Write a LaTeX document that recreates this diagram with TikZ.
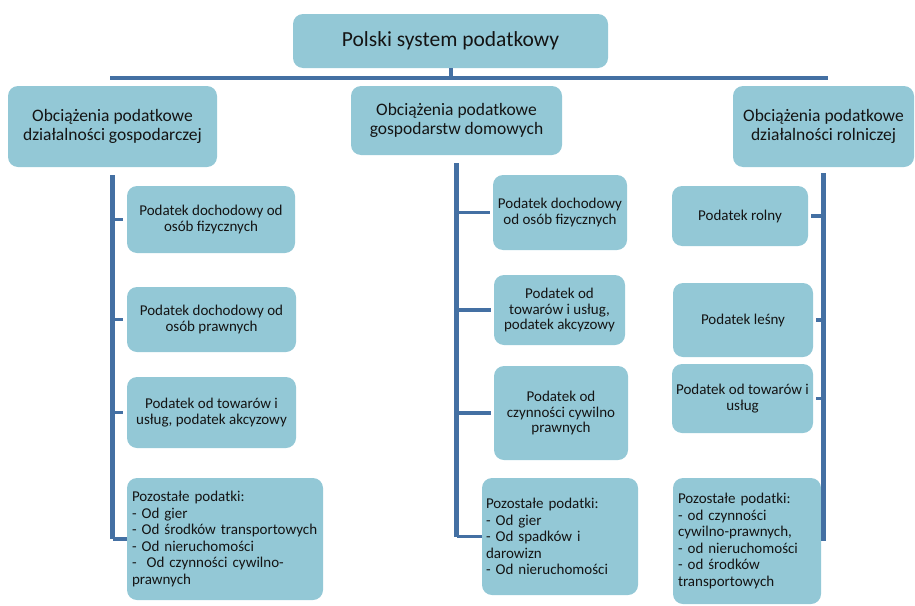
\documentclass[tikz,border=0pt]{standalone}
\usepackage{fontspec}
\setmainfont{Carlito}
\definecolor{boxfill}{HTML}{93C8D6}
\definecolor{linkblue}{HTML}{4470A3}
\begin{document}
\begin{tikzpicture}[x=1pt,y=-1pt,
  box/.style={fill=boxfill, rounded corners=10pt, inner sep=0pt, align=center, text=black!92},
  headbox/.style={box, font=\fontsize{21.5}{24}\selectfont},
  groupbox/.style={box, font=\fontsize{17.5}{19}\selectfont},
  taxbox/.style={box, font=\fontsize{15}{15.8}\selectfont},
  listbox/.style={box, align=left, font=\fontsize{15}{16.6}\selectfont},
  trunk/.style={draw=linkblue, line width=4.5pt},
  bar/.style={draw=linkblue, line width=4pt},
  tick/.style={draw=linkblue, line width=3.5pt}
]
\useasboundingbox (0,0) rectangle (915,605);

% top level
\node[headbox, minimum width=315pt, minimum height=54pt] (top) at (450.5,41) {Polski system podatkowy};

% second level
\node[groupbox, minimum width=209pt, minimum height=81pt] (L1) at (112.5,126.5) {Obciążenia podatkowe\\działalności gospodarczej};
\node[groupbox, minimum width=211pt, minimum height=69pt] (M1) at (456.5,120.5) {Obciążenia podatkowe\\gospodarstw domowych};
\node[groupbox, minimum width=181pt, minimum height=81pt] (R1) at (823.5,126.5) {Obciążenia podatkowe\\działalności rolniczej};

% connecting bar
\coordinate (barL) at (110,78);
\coordinate (barR) at (828,78);
\draw[bar] (top.south) -- (top.south |- barL);
\draw[bar] (barL) -- (barR);

% left column
\node[taxbox, minimum width=168pt, minimum height=67pt] (lb1) at (211,219.5) {Podatek dochodowy od\\osób fizycznych};
\node[taxbox, minimum width=169pt, minimum height=65pt] (lb2) at (211.5,319.5) {Podatek dochodowy od\\osób prawnych};
\node[taxbox, minimum width=169pt, minimum height=71pt] (lb3) at (211.5,412.5) {Podatek od towarów i\\usług, podatek akcyzowy};
\node[listbox, text width=186pt, minimum width=196pt, minimum height=122pt] (lb4) at (225,539) {Pozostałe podatki:\\- Od gier\\- Od środków transportowych\\- Od nieruchomości\\-\ \ Od czynności cywilno-\\prawnych};

\coordinate (ltop) at ([yshift=-8pt]L1.south);
\draw[trunk] (ltop) -- (ltop |- lb4.west);
\draw[tick] (ltop |- lb4.west) -- (lb4.west);
\foreach \b in {lb1,lb2,lb3}
  \draw[tick, shorten >=4pt] (ltop |- \b.west) -- (\b.west);

% middle column
\node[taxbox, minimum width=134pt, minimum height=75pt] (mb1) at (560,212.5) {Podatek dochodowy\\od osób fizycznych};
\node[taxbox, minimum width=131pt, minimum height=70pt] (mb2) at (559.5,310) {Podatek od\\towarów i usług,\\podatek akcyzowy};
\node[taxbox, minimum width=134pt, minimum height=94pt] (mb3) at (561,413) {Podatek od\\czynności cywilno\\prawnych};
\node[listbox, text width=148pt, minimum width=156pt, minimum height=117pt] (mb4) at (560,536.5) {Pozostałe podatki:\\- Od gier\\- Od spadków i\\darowizn\\- Od nieruchomości};

\coordinate (mtop) at ([yshift=-8pt]M1.south);
\draw[trunk] (mtop) -- (mtop |- mb4.west);
\draw[tick] (mtop |- mb4.west) -- (mb4.west);
\foreach \b in {mb1,mb2,mb3}
  \draw[tick, shorten >=3pt] (mtop |- \b.west) -- (\b.west);

% right column
\node[taxbox, minimum width=136pt, minimum height=60pt] (rb1) at (740,216) {Podatek rolny};
\node[taxbox, minimum width=140pt, minimum height=74pt] (rb2) at (743,320) {Podatek leśny};
\node[taxbox, minimum width=141pt, minimum height=69pt] (rb3) at (742.5,398.5) {Podatek od towarów i\\usług};
\node[listbox, text width=138pt, minimum width=148pt, minimum height=126pt] (rb4) at (747,541) {Pozostałe podatki:\\-\ od czynności\\cywilno-prawnych,\\-\ od nieruchomości\\-\ od środków\\transportowych};

\coordinate (rtop) at ([yshift=-6pt]R1.south);
\draw[trunk] (rtop) -- (rtop |- rb4.east);
\foreach \b in {rb1,rb2,rb3}
  \draw[tick, shorten >=3pt] (rtop |- \b.east) -- (\b.east);
\end{tikzpicture}
\end{document}
